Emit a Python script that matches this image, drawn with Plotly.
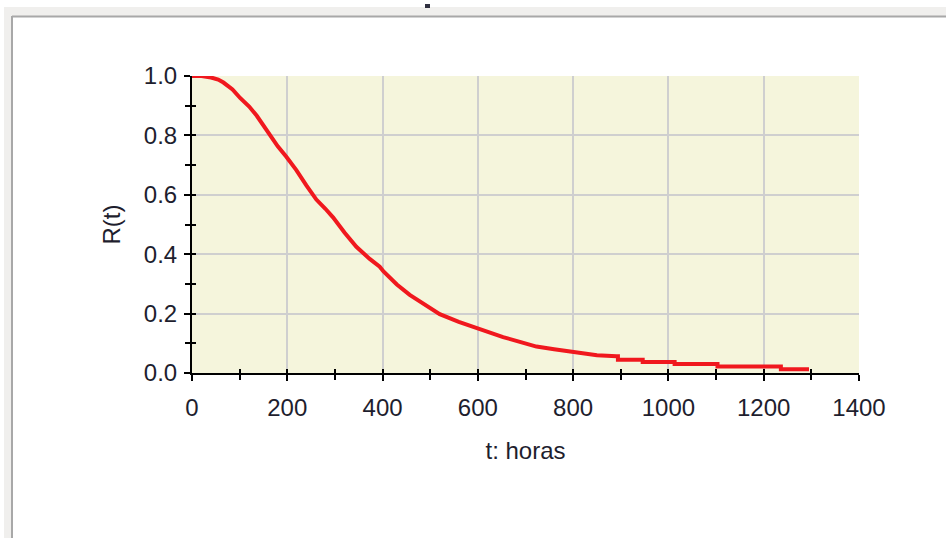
import plotly.graph_objects as go

# Reliability curve R(t) (t in hours)
t_hours = [0, 20, 40, 55, 66, 85, 101, 120, 136, 150, 164, 180, 198, 219, 240, 261, 280,
           296, 320, 345, 373, 394, 402, 430, 457, 490, 520, 560, 597, 625, 653, 690, 723,
           760, 800, 850, 891, 894, 894, 946, 946, 1013, 1013, 1103, 1103, 1236, 1236, 1295]
r_values = [1.0, 1.0, 0.995, 0.988, 0.978, 0.955, 0.926, 0.897, 0.866, 0.833, 0.797, 0.763,
            0.728, 0.683, 0.632, 0.584, 0.553, 0.524, 0.473, 0.425, 0.384, 0.358, 0.342,
            0.298, 0.263, 0.228, 0.198, 0.172, 0.151, 0.136, 0.121, 0.104, 0.089, 0.080,
            0.0705, 0.060, 0.056, 0.056, 0.045, 0.045, 0.037, 0.037, 0.030, 0.030, 0.022,
            0.022, 0.013, 0.013]

x_ticks = [0, 200, 400, 600, 800, 1000, 1200, 1400]
y_ticks = [0.0, 0.2, 0.4, 0.6, 0.8, 1.0]
y_tick_text = ["0.0", "0.2", "0.4", "0.6", "0.8", "1.0"]
x_title = "t: horas"
y_title = "R(t)"

W, H = 946, 538
L, R, T, B = 192, 87, 76, 165
pw, ph = W - L - R, H - T - B

def px(x):
    return (x - L) / pw

def py(y):
    return (H - B - y) / ph

font = dict(family="Liberation Sans, Arial, sans-serif", size=24, color="#1e1e2e")

fig = go.Figure()
fig.add_trace(go.Scatter(x=t_hours, y=r_values, mode="lines",
                         line=dict(color="#f0181e", width=4),
                         hoverinfo="skip", showlegend=False))
# empty trace so the overlay axes (inner half of crossing ticks) are drawn
fig.add_trace(go.Scatter(x=[], y=[], xaxis="x2", yaxis="y2", showlegend=False))

common_minor = dict(ticks="outside", ticklen=5, tickwidth=2, tickcolor="black")
fig.update_layout(
    width=W, height=H,
    margin=dict(l=L, r=R, t=T, b=B),
    paper_bgcolor="white",
    plot_bgcolor="#f5f5dc",
    xaxis=dict(range=[0, 1400], tickvals=x_ticks, ticks="outside", ticklen=6,
               tickwidth=2, tickcolor="black", showline=True, linecolor="black",
               linewidth=2, showgrid=True, gridcolor="#cfcfcf", gridwidth=2,
               zeroline=False, tickfont=font, ticklabelstandoff=6,
               minor=dict(dtick=100, tick0=0, showgrid=False, **common_minor),
               title=dict(text=x_title, font=font, standoff=22)),
    yaxis=dict(range=[0, 1.0], tickvals=y_ticks, ticktext=y_tick_text, ticks="outside",
               ticklen=6, tickwidth=2, tickcolor="black", showline=True, linecolor="black",
               linewidth=2, showgrid=True, gridcolor="#cfcfcf", gridwidth=2,
               zeroline=False, tickfont=font, ticklabelstandoff=2,
               minor=dict(dtick=0.1, tick0=0, showgrid=False, **common_minor),
               title=dict(text=y_title, font=font, standoff=16)),
    xaxis2=dict(range=[0, 1400], overlaying="x", anchor="y", side="bottom",
                tickvals=x_ticks, ticks="inside", ticklen=4, tickwidth=2, tickcolor="black",
                showticklabels=False, showgrid=False, zeroline=False, showline=False,
                minor=dict(dtick=100, tick0=0, ticks="inside", ticklen=4, tickwidth=2,
                           tickcolor="black")),
    yaxis2=dict(range=[0, 1.0], overlaying="y", anchor="x", side="left",
                tickvals=y_ticks, ticks="inside", ticklen=4, tickwidth=2, tickcolor="black",
                showticklabels=False, showgrid=False, zeroline=False, showline=False,
                minor=dict(dtick=0.1, tick0=0, ticks="inside", ticklen=4, tickwidth=2,
                           tickcolor="black")),
    shapes=[
        # window chrome: top band and left strip
        dict(type="rect", xref="paper", yref="paper", x0=px(4), x1=px(W), y0=py(7), y1=py(16),
             fillcolor="#f0efed", line=dict(width=0), layer="below"),
        dict(type="rect", xref="paper", yref="paper", x0=px(4), x1=px(11), y0=py(7), y1=py(H),
             fillcolor="#f0efed", line=dict(width=0), layer="below"),
        dict(type="line", xref="paper", yref="paper", x0=px(12), x1=px(W), y0=py(16.5), y1=py(16.5),
             line=dict(color="#a8a8a8", width=2)),
        dict(type="line", xref="paper", yref="paper", x0=px(12), x1=px(12), y0=py(16), y1=py(H),
             line=dict(color="#a8a8a8", width=2)),
        dict(type="rect", xref="paper", yref="paper", x0=px(425), x1=px(430), y0=py(4), y1=py(8),
             fillcolor="#303040", line=dict(width=0)),
    ],
)

fig.write_html("out.html", config={"displayModeBar": False},
               post_script="document.body.style.margin='0';document.body.style.overflow='hidden';")
